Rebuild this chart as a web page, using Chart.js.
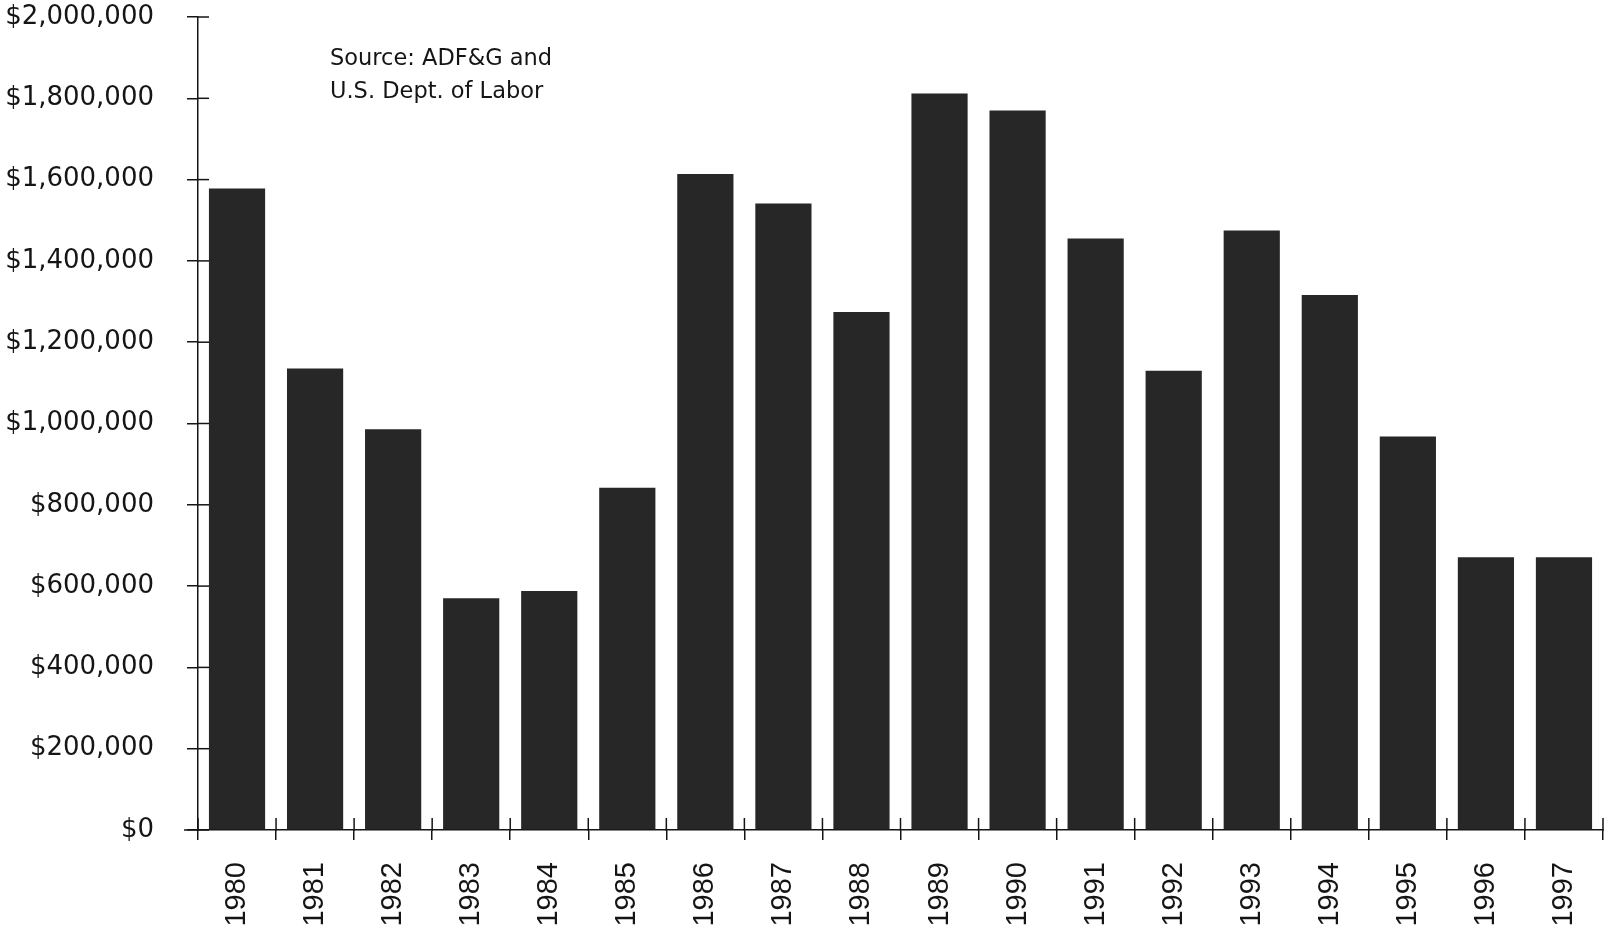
<!DOCTYPE html>
<html>
<head>
<meta charset="utf-8">
<script src="https://cdn.jsdelivr.net/npm/chart.js@4.4.1/dist/chart.umd.min.js"></script>
<style>
  html, body { margin: 0; padding: 0; background: #ffffff; }
  #wrap { width: 1606px; height: 935px; position: relative; }
</style>
</head>
<body>
<div id="wrap"><canvas id="c" width="1606" height="935"></canvas></div>
<script>
const categories = ['1980','1981','1982','1983','1984','1985','1986','1987','1988','1989','1990','1991','1992','1993','1994','1995','1996','1997'];
const values = [1578000, 1135000, 986000, 570000, 588000, 842000, 1614000, 1541000, 1274000, 1812000, 1770000, 1455000, 1130000, 1475000, 1316000, 968000, 671000, 671000];
const yTicks = [0, 200000, 400000, 600000, 800000, 1000000, 1200000, 1400000, 1600000, 1800000, 2000000];
const sourceLines = ['Source: ADF&G and', 'U.S. Dept. of Labor'];

const INK = '#151515';

const innerTicks = {
  id: 'innerTicks',
  afterDraw(chart) {
    const ctx = chart.ctx;
    const x = chart.scales.x, y = chart.scales.y;
    ctx.save();
    ctx.strokeStyle = INK;
    ctx.lineWidth = 1.5;
    y.ticks.forEach((t, i) => {
      const py = y.getPixelForTick(i);
      ctx.beginPath();
      ctx.moveTo(x.left - 1, py);
      ctx.lineTo(x.left + 11, py);
      ctx.stroke();
    });
    const step = x.getPixelForTick(1) - x.getPixelForTick(0);
    for (let i = 0; i <= categories.length; i++) {
      const px = i < categories.length ? x.getPixelForTick(i) - step / 2 : x.getPixelForTick(i - 1) + step / 2;
      ctx.beginPath();
      ctx.moveTo(px, y.bottom + 1);
      ctx.lineTo(px, y.bottom - 12);
      ctx.stroke();
    }
    ctx.beginPath();
    ctx.moveTo(x.left - 14, y.bottom);
    ctx.lineTo(x.left, y.bottom);
    ctx.stroke();
    ctx.fillStyle = INK;
    ctx.font = '22.5px "DejaVu Sans"';
    ctx.textAlign = 'left';
    ctx.textBaseline = 'middle';
    sourceLines.forEach((s, i) => ctx.fillText(s, 330, 59 + i * 33));
    ctx.restore();
  }
};

new Chart(document.getElementById('c'), {
  type: 'bar',
  data: {
    labels: categories,
    datasets: [{
      data: values,
      backgroundColor: '#272727',
      borderWidth: 0,
      categoryPercentage: 1.0,
      barPercentage: 0.72
    }]
  },
  options: {
    responsive: false,
    animation: false,
    devicePixelRatio: 1,
    layout: { padding: { left: 0, right: 3, top: 17, bottom: 0 } },
    plugins: { legend: { display: false }, tooltip: { enabled: false } },
    scales: {
      x: {
        offset: true,
        border: { display: true, color: INK, width: 1.5 },
        grid: { display: true, drawOnChartArea: false, offset: true, tickLength: 10, color: INK, lineWidth: 1.5 },
        ticks: {
          color: INK,
          font: { family: '"Liberation Sans", Arial, sans-serif', size: 29 },
          minRotation: 90, maxRotation: 90,
          padding: 22,
          autoSkip: false
        },
        afterFit(scale) { scale.height = 105; scale.paddingLeft = 0; scale.paddingRight = 0; scale.paddingTop = 0; scale.paddingBottom = 0; }
      },
      y: {
        min: 0, max: 2000000,
        border: { display: true, color: INK, width: 1.5 },
        grid: { display: true, drawOnChartArea: false, tickLength: 11, color: INK, lineWidth: 1.5 },
        afterBuildTicks(scale) { scale.ticks = yTicks.map(v => ({ value: v })); },
        ticks: {
          color: INK,
          font: { family: '"DejaVu Sans", sans-serif', size: 26 },
          padding: 33,
          callback: v => '$' + Number(v).toLocaleString('en-US')
        },
        afterFit(scale) { scale.width = 198; scale.paddingTop = 0; scale.paddingBottom = 0; scale.paddingLeft = 0; scale.paddingRight = 0; }
      }
    }
  },
  plugins: [innerTicks]
});
</script>
</body>
</html>
